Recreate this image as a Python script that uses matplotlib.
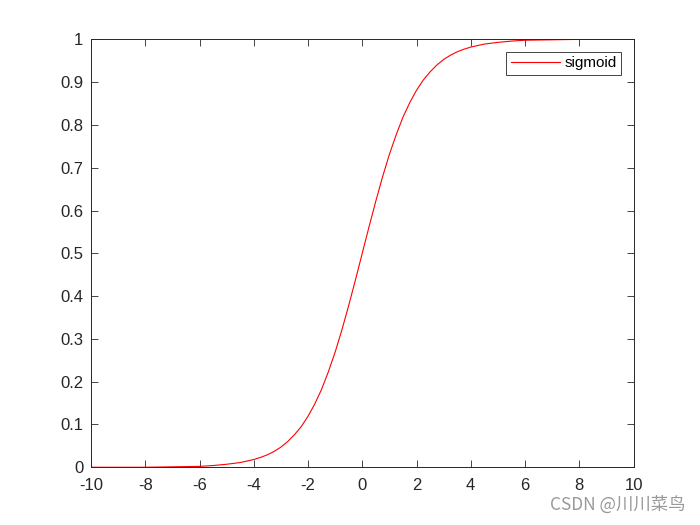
import numpy as np
import matplotlib.pyplot as plt

plt.rcParams['font.family'] = ['Liberation Sans', 'DejaVu Sans']

# values
x = [-10, -9, -8, -7, -6, -5.5, -5, -4.5, -4, -3.75, -3.5, -3.25, -3, -2.75,
     -2.5, -2.25, -2, -1.75, -1.5, -1.25, -1, -0.75, -0.5, -0.25, 0,
     0.25, 0.5, 0.75, 1, 1.25, 1.5, 1.75, 2, 2.25, 2.5, 2.75, 3, 3.25,
     3.5, 3.75, 4, 4.5, 5, 5.5, 6, 7, 8, 9, 10]
y = [0.000, 0.000, 0.000, 0.001, 0.002, 0.004, 0.007, 0.011, 0.018, 0.023,
     0.029, 0.037, 0.047, 0.060, 0.076, 0.095, 0.119, 0.148, 0.182, 0.223,
     0.269, 0.321, 0.378, 0.438, 0.500,
     0.562, 0.622, 0.679, 0.731, 0.777, 0.818, 0.852, 0.881, 0.905, 0.924,
     0.940, 0.953, 0.963, 0.971, 0.977, 0.982, 0.989, 0.993, 0.996, 0.998,
     0.999, 1.000, 1.000, 1.000]
xticks = list(range(-10, 11, 2))
yticks = [0, 0.1, 0.2, 0.3, 0.4, 0.5, 0.6, 0.7, 0.8, 0.9, 1]
ytick_labels = ['0', '0.1', '0.2', '0.3', '0.4', '0.5', '0.6', '0.7', '0.8', '0.9', '1']

fig = plt.figure(figsize=(7, 5.25), dpi=100)
ax = fig.add_axes([0.13, 0.11, 0.775, 0.815])

ax.plot(x, y, color='red', lw=0.8, label='sigmoid')

ax.set_xlim(-10, 10)
ax.set_ylim(0, 1)
ax.set_xticks(xticks)
ax.set_xticklabels([str(t) for t in xticks])
ax.set_yticks(yticks)
ax.set_yticklabels(ytick_labels)
ax.tick_params(direction='in', length=5, width=0.6, labelsize=12,
               top=True, right=True, colors='#262626', labelcolor='#262626')
ax.tick_params(axis='x', pad=8)
ax.tick_params(axis='y', pad=5.5)
for s in ax.spines.values():
    s.set_linewidth(0.7)
    s.set_color('#262626')

leg = ax.legend(loc='upper right', fontsize=11, fancybox=False,
                framealpha=1, edgecolor='#262626', handlelength=3.2,
                borderaxespad=0.8, borderpad=0.3, handletextpad=0.3)
leg.get_frame().set_linewidth(0.6)

fig.text(0.979, 0.038, 'CSDN @川川菜鸟', ha='right', va='center',
         fontsize=12.5, color='#999999',
         family=['Noto Sans CJK SC', 'DejaVu Sans'])

fig.savefig('out.png', dpi=100)
